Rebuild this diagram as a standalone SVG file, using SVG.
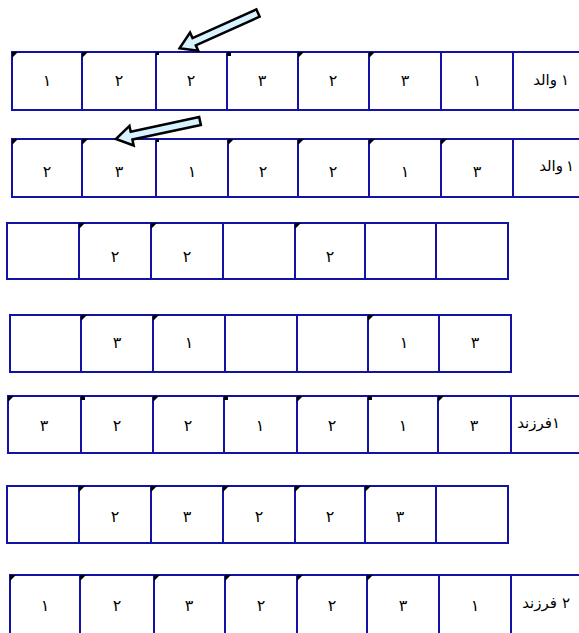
<svg xmlns="http://www.w3.org/2000/svg" width="579" height="633" viewBox="0 0 579 633">
<style>
.c{fill:#fff;stroke:#1212a6;stroke-width:2}
.d{font-family:"Liberation Serif","DejaVu Sans",serif;font-size:16px;fill:#000;text-anchor:middle}
.l{font-family:"Liberation Serif","DejaVu Sans",serif;font-size:15px;fill:#000;text-anchor:end}
.n{font-family:"Liberation Serif","DejaVu Sans",serif;font-size:15px;fill:#000;text-anchor:middle}
.m{fill:#000}
.a{fill:#d6f3ff;stroke:#000;stroke-width:2.5;stroke-linejoin:miter}
</style>
<defs>
<polygon id="tri" points="0,0 6,0 0,6"/>
</defs>
<rect width="579" height="633" fill="#fff"/>

<g id="row1">
<rect class="c" x="513" y="52" width="90" height="58"/>
<rect class="c" x="12" y="52" width="70" height="58"/>
<rect class="c" x="82" y="52" width="74" height="58"/>
<rect class="c" x="156" y="52" width="71" height="58"/>
<rect class="c" x="227" y="52" width="71" height="58"/>
<rect class="c" x="298" y="52" width="71" height="58"/>
<rect class="c" x="369" y="52" width="72" height="58"/>
<rect class="c" x="441" y="52" width="72" height="58"/>
<use href="#tri" class="m" x="12" y="52"/><use href="#tri" class="m" x="82" y="52"/>
<rect class="m" x="156" y="52" width="3" height="3"/><rect class="m" x="227" y="52" width="4" height="4"/>
<use href="#tri" class="m" x="298" y="52"/><use href="#tri" class="m" x="369" y="52"/>
<text class="d" x="47" y="86">۱</text><text class="d" x="119" y="86">۲</text><text class="d" x="191" y="86">۲</text><text class="d" x="262" y="86">۳</text><text class="d" x="333" y="86">۲</text><text class="d" x="405" y="86">۳</text><text class="d" x="477" y="86">۱</text>
<text class="l" x="557" y="85">والد</text><text class="n" x="565" y="85">۱</text>
</g>

<g id="row2">
<rect class="c" x="513" y="139" width="90" height="58"/>
<rect class="c" x="12" y="139" width="70" height="58"/>
<rect class="c" x="82" y="139" width="74" height="58"/>
<rect class="c" x="156" y="139" width="72" height="58"/>
<rect class="c" x="228" y="139" width="70" height="58"/>
<rect class="c" x="298" y="139" width="71" height="58"/>
<rect class="c" x="369" y="139" width="72" height="58"/>
<rect class="c" x="441" y="139" width="72" height="58"/>
<use href="#tri" class="m" x="12" y="139"/><use href="#tri" class="m" x="82" y="139"/><rect class="m" x="156" y="139" width="3" height="3"/><use href="#tri" class="m" x="228" y="139"/><use href="#tri" class="m" x="298" y="139"/><use href="#tri" class="m" x="369" y="139"/><use href="#tri" class="m" x="441" y="139"/>
<text class="d" x="47" y="177">۲</text><text class="d" x="119" y="177">۳</text><text class="d" x="192" y="177">۱</text><text class="d" x="263" y="177">۲</text><text class="d" x="333" y="177">۲</text><text class="d" x="405" y="177">۱</text><text class="d" x="477" y="177">۳</text>
<text class="l" x="563" y="171">والد</text><text class="n" x="570" y="171">۱</text>
</g>

<g id="row3">
<rect class="c" x="7" y="223" width="72" height="56"/>
<rect class="c" x="79" y="223" width="72" height="56"/>
<rect class="c" x="151" y="223" width="72" height="56"/>
<rect class="c" x="223" y="223" width="72" height="56"/>
<rect class="c" x="295" y="223" width="70" height="56"/>
<rect class="c" x="365" y="223" width="71" height="56"/>
<rect class="c" x="436" y="223" width="72" height="56"/>
<use href="#tri" class="m" x="79" y="223"/><use href="#tri" class="m" x="151" y="223"/><use href="#tri" class="m" x="295" y="223"/>
<text class="d" x="115" y="262">۲</text><text class="d" x="187" y="262">۲</text><text class="d" x="330" y="262">۲</text>
</g>

<g id="row4">
<rect class="c" x="10" y="315" width="71" height="57"/>
<rect class="c" x="81" y="315" width="72" height="57"/>
<rect class="c" x="153" y="315" width="72" height="57"/>
<rect class="c" x="225" y="315" width="72" height="57"/>
<rect class="c" x="297" y="315" width="71" height="57"/>
<rect class="c" x="368" y="315" width="71" height="57"/>
<rect class="c" x="439" y="315" width="72" height="57"/>
<use href="#tri" class="m" x="81" y="315"/><use href="#tri" class="m" x="153" y="315"/><use href="#tri" class="m" x="368" y="315"/>
<text class="d" x="117" y="348">۳</text><text class="d" x="189" y="348">۱</text><text class="d" x="404" y="348">۱</text><text class="d" x="475" y="348">۳</text>
</g>

<g id="row5">
<rect class="c" x="511" y="396" width="90" height="57"/>
<rect class="c" x="8" y="396" width="73" height="57"/>
<rect class="c" x="81" y="396" width="72" height="57"/>
<rect class="c" x="153" y="396" width="71" height="57"/>
<rect class="c" x="224" y="396" width="73" height="57"/>
<rect class="c" x="297" y="396" width="71" height="57"/>
<rect class="c" x="368" y="396" width="70" height="57"/>
<rect class="c" x="438" y="396" width="73" height="57"/>
<use href="#tri" class="m" x="8" y="396"/><rect class="m" x="81" y="396" width="4" height="4"/><use href="#tri" class="m" x="153" y="396"/><rect class="m" x="224" y="396" width="4" height="4"/><use href="#tri" class="m" x="297" y="396"/><rect class="m" x="368" y="396" width="4" height="4"/><use href="#tri" class="m" x="438" y="396"/>
<text class="d" x="44" y="431">۳</text><text class="d" x="117" y="431">۲</text><text class="d" x="188" y="431">۲</text><text class="d" x="260" y="431">۱</text><text class="d" x="332" y="431">۲</text><text class="d" x="403" y="431">۱</text><text class="d" x="474" y="431">۳</text>
<text class="l" x="552" y="428">فرزند</text><text class="n" x="556" y="428">۱</text>
</g>

<g id="row6">
<rect class="c" x="7" y="486" width="72" height="57"/>
<rect class="c" x="79" y="486" width="72" height="57"/>
<rect class="c" x="151" y="486" width="72" height="57"/>
<rect class="c" x="223" y="486" width="72" height="57"/>
<rect class="c" x="295" y="486" width="70" height="57"/>
<rect class="c" x="365" y="486" width="71" height="57"/>
<rect class="c" x="436" y="486" width="72" height="57"/>
<use href="#tri" class="m" x="79" y="486"/><use href="#tri" class="m" x="151" y="486"/><use href="#tri" class="m" x="223" y="486"/><use href="#tri" class="m" x="295" y="486"/><use href="#tri" class="m" x="365" y="486"/>
<text class="d" x="115" y="522">۲</text><text class="d" x="187" y="522">۳</text><text class="d" x="259" y="522">۲</text><text class="d" x="330" y="522">۲</text><text class="d" x="400" y="522">۳</text>
</g>

<g id="row7">
<rect class="c" x="511" y="575" width="90" height="80"/>
<rect class="c" x="10" y="575" width="70" height="80"/>
<rect class="c" x="80" y="575" width="74" height="80"/>
<rect class="c" x="154" y="575" width="71" height="80"/>
<rect class="c" x="225" y="575" width="72" height="80"/>
<rect class="c" x="297" y="575" width="70" height="80"/>
<rect class="c" x="367" y="575" width="72" height="80"/>
<rect class="c" x="439" y="575" width="72" height="80"/>
<use href="#tri" class="m" x="10" y="575"/><use href="#tri" class="m" x="80" y="575"/><use href="#tri" class="m" x="154" y="575"/><use href="#tri" class="m" x="225" y="575"/><use href="#tri" class="m" x="297" y="575"/><use href="#tri" class="m" x="367" y="575"/>
<text class="d" x="45" y="611">۱</text><text class="d" x="117" y="611">۲</text><text class="d" x="189" y="611">۳</text><text class="d" x="261" y="611">۲</text><text class="d" x="332" y="611">۲</text><text class="d" x="403" y="611">۳</text><text class="d" x="475" y="611">۱</text>
<text class="l" x="557" y="608">فرزند</text><text class="n" x="566" y="608">۲</text>
</g>

<g id="connectors">
<polygon class="a" transform="translate(258,13) rotate(155.8)" points="0,-4 70,-4 70,-10 86,0 70,10 70,4 0,4"/>
<polygon class="a" transform="translate(200,121) rotate(167.9)" points="0,-4 70,-4 70,-10 86,0 70,10 70,4 0,4"/>
</g>
</svg>
